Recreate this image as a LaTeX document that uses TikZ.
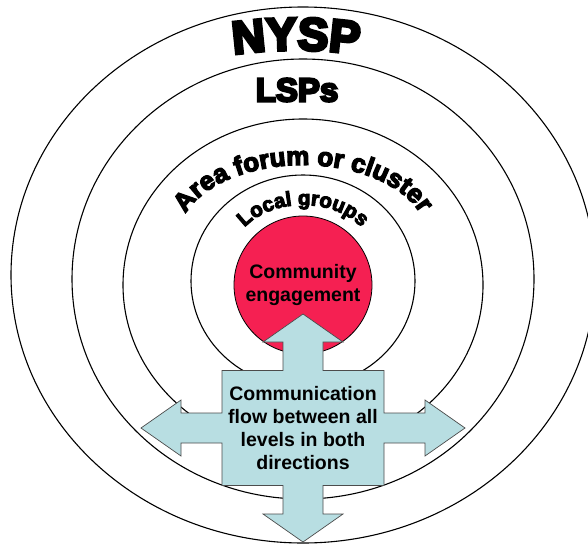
\documentclass[tikz,border=0pt]{standalone}
\usepackage{fontspec}
\setmainfont{Liberation Sans}
\newfontfamily\heavyfont{Liberation Sans Bold}[FakeBold=5]
\newfontfamily\titlefont{Liberation Sans Bold}[FakeBold=7]
\usetikzlibrary{shapes.geometric, decorations.text}

\definecolor{engage}{RGB}{245,32,82}
\definecolor{flowblue}{RGB}{184,222,226}

\tikzset{
  ring/.style={draw, ellipse, line width=1.1pt, fill=white, inner sep=0pt},
  core/.style={draw, circle, line width=0.8pt, fill=engage, inner sep=0pt,
    minimum size=138pt, align=center},
  flowarrow/.style={draw=black!70, line width=0.7pt, fill=flowblue},
  arch/.style={decorate, decoration={text along path, text align=center, text={#1}}},
}

\begin{document}
\begin{tikzpicture}[x=1pt, y=-1pt, font=\bfseries\fontsize{19.5}{23}\selectfont]
  \useasboundingbox (0,0) rectangle (588,543);
  \clip (0,0) rectangle (588,543);

  % levels, outermost first
  \node[ring, minimum width=584pt, minimum height=536pt] (nysp)  at (303,275) {};
  \node[ring, minimum width=462pt, minimum height=440pt] (lsps)  at (303,279) {};
  \node[ring, minimum width=360pt, minimum height=332pt] (area)  at (303,285) {};
  \node[ring, minimum width=224pt, minimum height=212pt] (local) at (303,281) {};

  % level names
  \path[arch={|\titlefont\fontsize{46}{46}\selectfont|NYSP}]
    ([shift={(250:450)}]296,500) arc[start angle=250, end angle=290, radius=450];
  \node[font=\titlefont\fontsize{33}{33}\selectfont] (lspslabel) at (297,90) {LSPs};
  \path[arch={|\heavyfont\fontsize{26}{26}\selectfont|Area forum or cluster}]
    ([shift={(190:124 and 72)}]303,237) arc[start angle=190, end angle=350, x radius=124, y radius=72];
  \path[arch={|\heavyfont\fontsize{20.5}{20.5}\selectfont|Local groups}]
    ([shift={(190:70 and 50)}]303,255) arc[start angle=190, end angle=350, x radius=70, y radius=50];

  \node[core] (community) at (303,285) {Community\\engagement};

  % four-way arrow
  \begin{scope}[shift={(303,428)}]
    \draw[flowarrow] (0,-114) -- (40,-86) -- (20,-86) -- (20,-57.5) -- (81,-57.5)
      -- (81,-15) -- (122,-15) -- (122,-28) -- (162,0) -- (122,28) -- (122,15)
      -- (81,15) -- (81,57.5) -- (20,57.5) -- (20,86) -- (40,86) -- (0,114)
      -- (-40,86) -- (-20,86) -- (-20,57.5) -- (-81,57.5) -- (-81,15)
      -- (-122,15) -- (-122,28) -- (-162,0) -- (-122,-28) -- (-122,-15)
      -- (-81,-15) -- (-81,-57.5) -- (-20,-57.5) -- (-20,-86) -- (-40,-86) -- cycle;
  \end{scope}
  \node[align=center] (flow) at (303,428)
    {Communication\\flow between all\\levels in both\\directions};
\end{tikzpicture}
\end{document}
